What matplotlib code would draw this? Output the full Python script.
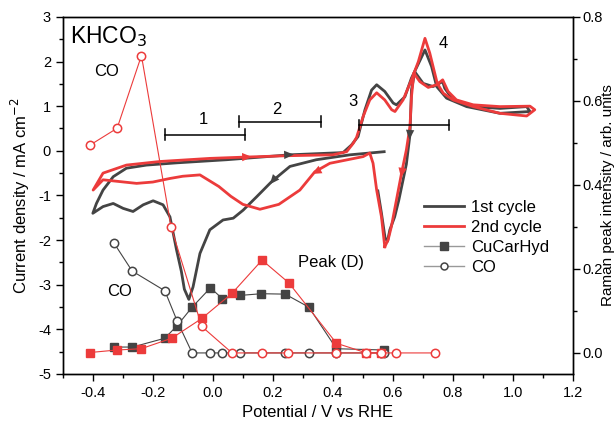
import matplotlib
matplotlib.use("Agg")
import matplotlib.pyplot as plt
from matplotlib.lines import Line2D
from matplotlib.ticker import MultipleLocator

plt.rcParams['font.family'] = ['Liberation Sans', 'DejaVu Sans']

BLK = '#444444'
RED = '#ec3b3b'

# ---- CV, 1st cycle (potential V vs RHE, current density mA/cm2)
cv1_v = [0.571, 0.457, 0.345, 0.257, 0.196, 0.146, 0.101, 0.068, 0.034, -0.010, -0.043, -0.066,
         -0.080, -0.095, -0.105, -0.121, -0.143, -0.166, -0.199, -0.232, -0.266, -0.299, -0.332,
         -0.366, -0.400, -0.388, -0.366, -0.332, -0.288, -0.221, -0.121, 0.046, 0.257, 0.434,
         0.462, 0.484, 0.507, 0.529, 0.546, 0.573, 0.601, 0.612, 0.640, 0.662, 0.685, 0.707,
         0.729, 0.746, 0.779, 0.846, 0.957, 1.057, 1.046, 0.957, 0.868, 0.801, 0.773, 0.766,
         0.734, 0.701, 0.673, 0.662, 0.657, 0.645, 0.620, 0.606, 0.590, 0.582, 0.574, 0.562, 0.550]
cv1_j = [-0.02, -0.09, -0.20, -0.35, -0.69, -1.03, -1.33, -1.51, -1.55, -1.77, -2.30, -3.05,
         -3.33, -3.10, -2.70, -2.22, -1.48, -1.21, -1.12, -1.21, -1.36, -1.29, -1.18,
         -1.25, -1.40, -1.18, -0.88, -0.58, -0.39, -0.32, -0.27, -0.20, -0.09, -0.04,
         0.13, 0.32, 0.92, 1.36, 1.48, 1.33, 1.07, 1.03, 1.21, 1.63, 1.95, 2.26,
         1.89, 1.44, 1.18, 0.99, 0.84, 0.88, 0.99, 0.95, 0.99, 1.14, 1.40, 1.55,
         1.44, 1.51, 1.77, 1.36, 0.36, -0.30, -1.10, -1.48, -1.77, -2.03, -1.95, -1.40, -0.90]

# ---- CV, 2nd cycle
cv2_v = [0.573, 0.562, 0.546, 0.534, 0.523, 0.501, 0.390, 0.340, 0.290, 0.220, 0.157, 0.100,
         0.060, 0.020, -0.043, -0.100, -0.143, -0.200, -0.254, -0.310, -0.366, -0.399, -0.366,
         -0.288, -0.177, -0.010, 0.112, 0.250, 0.400, 0.446, 0.468, 0.479, 0.501, 0.523, 0.546,
         0.573, 0.596, 0.607, 0.634, 0.662, 0.685, 0.707, 0.723, 0.734, 0.748, 0.768, 0.801,
         0.868, 0.957, 1.046, 1.073, 1.057, 0.957, 0.868, 0.812, 0.784, 0.766, 0.746, 0.718,
         0.690, 0.670, 0.662, 0.657, 0.645, 0.629, 0.612, 0.595, 0.584, 0.573]
cv2_j = [-2.15, -1.48, -0.88, -0.28, -0.05, -0.13, -0.28, -0.47, -0.88, -1.20, -1.31, -1.20,
         -1.02, -0.80, -0.54, -0.57, -0.62, -0.70, -0.73, -0.69, -0.65, -0.88, -0.50,
         -0.32, -0.24, -0.17, -0.14, -0.11, -0.09, -0.02, 0.17, 0.30, 0.77, 1.14, 1.30,
         1.14, 0.92, 0.88, 1.14, 1.59, 2.00, 2.52, 2.19, 1.89, 1.51, 1.29, 1.14,
         0.99, 0.84, 0.78, 0.92, 1.00, 0.99, 1.03, 1.14, 1.33, 1.59, 1.48, 1.42,
         1.55, 1.74, 1.21, 0.54, 0.02, -0.50, -1.10, -1.70, -2.00, -2.15]

# ---- Raman peak intensities (arb. units)
hyd1_v = [-0.329, -0.268, -0.160, -0.119, -0.069, -0.008, 0.032, 0.092, 0.162, 0.241, 0.320, 0.412, 0.571]
hyd1_i = [0.014, 0.014, 0.035, 0.065, 0.109, 0.155, 0.129, 0.137, 0.141, 0.140, 0.109, 0.010, 0.007]
hyd2_v = [-0.410, -0.319, -0.239, -0.137, -0.037, 0.064, 0.164, 0.253, 0.412, 0.512, 0.559]
hyd2_i = [0.001, 0.007, 0.010, 0.035, 0.082, 0.142, 0.221, 0.167, 0.023, 0.0, 0.0]

co1_v = [-0.329, -0.269, -0.160, -0.119, -0.069, -0.010, 0.032, 0.092, 0.240, 0.321, 0.412, 0.559, 0.571]
co1_i = [0.261, 0.195, 0.148, 0.076, 0.0, 0.0, 0.0, 0.0, 0.0, 0.0, 0.0, 0.0, 0.0]
co2_v = [-0.409, -0.319, -0.238, -0.139, -0.037, 0.064, 0.164, 0.252, 0.412, 0.512, 0.559, 0.610, 0.740]
co2_i = [0.495, 0.535, 0.708, 0.299, 0.063, 0.0, 0.0, 0.0, 0.0, 0.0, 0.0, 0.0, 0.0]

fig, ax = plt.subplots(figsize=(6.16, 4.23), dpi=100)
fig.subplots_adjust(left=0.102, right=0.930, bottom=0.116, top=0.960)
ax2 = ax.twinx()

ax.plot(cv1_v, cv1_j, color=BLK, lw=2.0, solid_joinstyle='round')
ax.plot(cv2_v, cv2_j, color=RED, lw=2.0, solid_joinstyle='round')

# sweep direction arrows
def arrow(x0, y0, x1, y1, c):
    ax.annotate('', xy=(x1, y1), xytext=(x0, y0),
                arrowprops=dict(arrowstyle='-|>,head_length=0.7,head_width=0.3', color=c, lw=0, shrinkA=0, shrinkB=0))

arrow(0.22, -0.095, 0.27, -0.085, BLK)
arrow(0.215, -0.55, 0.19, -0.75, BLK)
arrow(0.659, 0.6, 0.655, 0.25, BLK)
arrow(0.08, -0.145, 0.13, -0.135, RED)
arrow(0.37, -0.38, 0.33, -0.52, RED)
arrow(0.636, -0.25, 0.627, -0.6, RED)

ax2.plot(hyd1_v, hyd1_i, color=BLK, lw=0.8, marker='s', ms=5.5, mfc=BLK, mec=BLK)
ax2.plot(co1_v, co1_i, color=BLK, lw=0.8, marker='o', ms=6, mfc='white', mec=BLK, mew=1.1)
ax2.plot(hyd2_v, hyd2_i, color=RED, lw=0.8, marker='s', ms=5.5, mfc=RED, mec=RED)
ax2.plot(co2_v, co2_i, color=RED, lw=0.8, marker='o', ms=6, mfc='white', mec=RED, mew=1.1)

# region bars
bars = [(-0.16, 0.107, 0.36, '1', -0.03, 0.71), (0.087, 0.36, 0.65, '2', 0.212, 0.92),
        (0.488, 0.787, 0.58, '3', 0.468, 1.10)]
for x0, x1, y, lab, tx, ty in bars:
    ax.plot([x0, x1], [y, y], color='black', lw=1.1)
    ax.plot([x0, x0], [y - 0.12, y + 0.12], color='black', lw=1.1)
    ax.plot([x1, x1], [y - 0.12, y + 0.12], color='black', lw=1.1)
    ax.text(tx, ty, lab, fontsize=12, ha='center', va='center')
ax.text(0.768, 2.41, '4', fontsize=12, ha='center', va='center')

ax.text(-0.475, 2.55, 'KHCO$_3$', fontsize=16.5, ha='left', va='center')
ax.text(-0.353, 1.78, 'CO', fontsize=12, ha='center', va='center')
ax.text(-0.31, -3.16, 'CO', fontsize=12, ha='center', va='center')
ax.text(0.284, -2.51, 'Peak (D)', fontsize=12, ha='left', va='center')

ax.set_xlim(-0.5, 1.2)
ax.set_ylim(-5, 3)
ax2.set_ylim(-0.05, 0.8)
ax.xaxis.set_major_locator(MultipleLocator(0.2))
ax.xaxis.set_minor_locator(MultipleLocator(0.1))
ax.yaxis.set_major_locator(MultipleLocator(1))
ax.yaxis.set_minor_locator(MultipleLocator(0.5))
ax2.yaxis.set_major_locator(MultipleLocator(0.2))
ax2.yaxis.set_minor_locator(MultipleLocator(0.1))
ax.set_xticks([-0.4, -0.2, 0.0, 0.2, 0.4, 0.6, 0.8, 1.0, 1.2])
ax.set_xticklabels(['-0.4', '-0.2', '0.0', '0.2', '0.4', '0.6', '0.8', '1.0', '1.2'])
ax.set_yticks([-5, -4, -3, -2, -1, 0, 1, 2, 3])
ax.set_yticklabels(['-5', '-4', '-3', '-2', '-1', '0', '1', '2', '3'])
ax2.set_yticks([0.0, 0.2, 0.4, 0.6, 0.8])
ax2.set_yticklabels(['0.0', '0.2', '0.4', '0.6', '0.8'])
for a in (ax, ax2):
    a.tick_params(which='both', direction='out', labelsize=10.5, width=1.0)
    a.tick_params(which='major', length=5)
    a.tick_params(which='minor', length=3)
    for s in a.spines.values():
        s.set_linewidth(1.0)
ax.tick_params(top=False, right=False)
ax2.tick_params(pad=1.5)

ax.set_xlabel('Potential / V vs RHE', fontsize=12)
ax.set_ylabel('Current density / mA cm$^{-2}$', fontsize=12)
fig.text(0.987, 0.538, 'Raman peak intensity / arb. units', fontsize=11,
         rotation=90, ha='center', va='center')

handles = [Line2D([], [], color=BLK, lw=2.0),
           Line2D([], [], color=RED, lw=2.0),
           Line2D([], [], color='#999999', lw=1.0, marker='s', ms=6, mfc=BLK, mec=BLK),
           Line2D([], [], color='#999999', lw=1.0, marker='o', ms=5, mfc='white', mec=BLK, mew=1.1)]
ax2.legend(handles, ['1st cycle', '2nd cycle', 'CuCarHyd', 'CO'], loc='upper left',
           bbox_to_anchor=(0.695, 0.505), frameon=False, fontsize=12,
           handlelength=2.4, handletextpad=0.4, labelspacing=0.3, borderaxespad=0)

fig.savefig('out.png', dpi=100)
